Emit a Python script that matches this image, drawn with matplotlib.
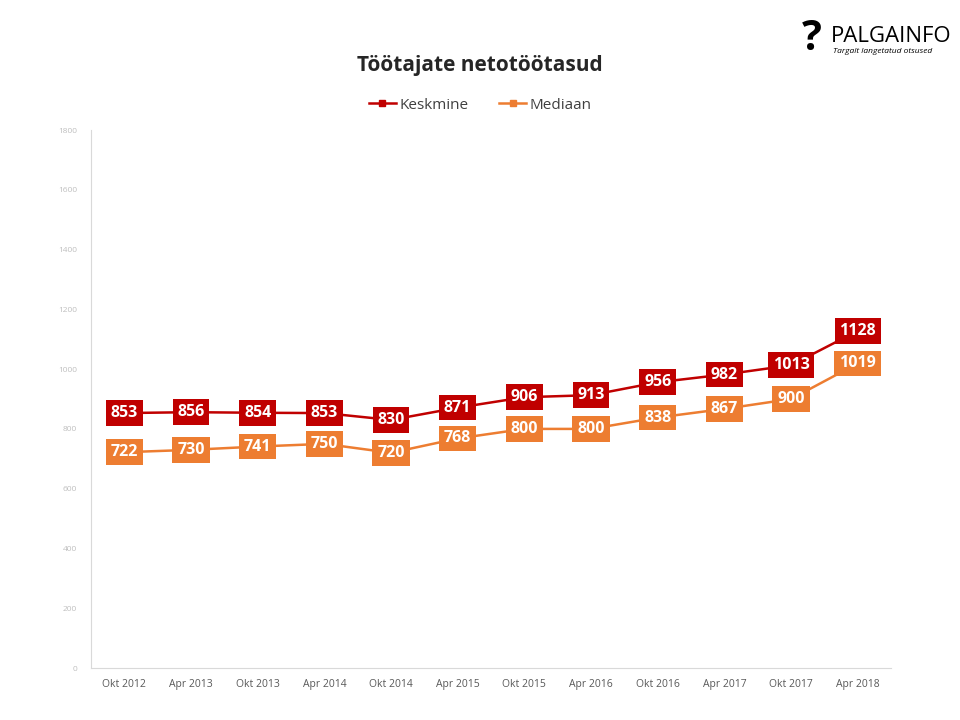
import matplotlib.pyplot as plt

plt.rcParams['font.family'] = ['Open Sans', 'DejaVu Sans']

periods = ["Okt 2012", "Apr 2013", "Okt 2013", "Apr 2014", "Okt 2014", "Apr 2015",
           "Okt 2015", "Apr 2016", "Okt 2016", "Apr 2017", "Okt 2017", "Apr 2018"]
keskmine = [853, 856, 854, 853, 830, 871, 906, 913, 956, 982, 1013, 1128]
mediaan = [722, 730, 741, 750, 720, 768, 800, 800, 838, 867, 900, 1019]

red = "#C00000"
orange = "#ED7D31"

fig = plt.figure(figsize=(9.6, 7.2), dpi=100)
ax = fig.add_axes([0.0948, 0.0722, 0.8333, 0.7472])

x = list(range(len(periods)))
ax.plot(x, keskmine, color=red, lw=1.8, marker="s", ms=5, label="Keskmine", zorder=2)
ax.plot(x, mediaan, color=orange, lw=1.8, marker="s", ms=5, label="Mediaan", zorder=2)

# value labels in boxes over the points
for xi, v in zip(x, keskmine):
    ax.text(xi, v, str(v), ha="center", va="center", color="white", fontsize=11.5,
            fontweight="bold", zorder=3,
            bbox=dict(boxstyle="square,pad=0.3", fc=red, ec="none"))
for xi, v in zip(x, mediaan):
    ax.text(xi, v, str(v), ha="center", va="center", color="white", fontsize=11.5,
            fontweight="bold", zorder=3,
            bbox=dict(boxstyle="square,pad=0.3", fc=orange, ec="none"))

ax.set_xlim(-0.5, len(periods) - 0.5)
ax.set_ylim(0, 1800)
ax.set_yticks(range(0, 1801, 200))
ax.set_xticks(x)
ax.set_xticklabels(periods)
ax.tick_params(axis="x", length=0, labelsize=7.5, colors="#595959", pad=8)
ax.tick_params(axis="y", length=0, labelsize=6, colors="#BFBFBF", pad=10)
for s in ["top", "right"]:
    ax.spines[s].set_visible(False)
ax.spines["left"].set_color("#D9D9D9")
ax.spines["bottom"].set_color("#D9D9D9")

fig.text(0.5, 0.909, "Töötajate netotöötasud", ha="center", va="center",
         fontsize=15, fontweight="bold", color="#262626")
fig.legend(loc="center", bbox_to_anchor=(0.5, 0.854), ncol=2, frameon=False,
           fontsize=11, handlelength=1.8, columnspacing=2.0, handletextpad=0.2,
           labelcolor="#404040")

# logo
fig.text(0.846, 0.945, "?", ha="center", va="center", fontsize=30, fontweight="bold",
         color="black")
fig.text(0.866, 0.9417, "PALGAINFO", ha="left", va="baseline", fontsize=16,
         color="black")
fig.text(0.868, 0.933, "Targalt langetatud otsused", ha="left", va="top",
         fontsize=6, style="italic", color="black")

fig.savefig("out.png", dpi=100)
